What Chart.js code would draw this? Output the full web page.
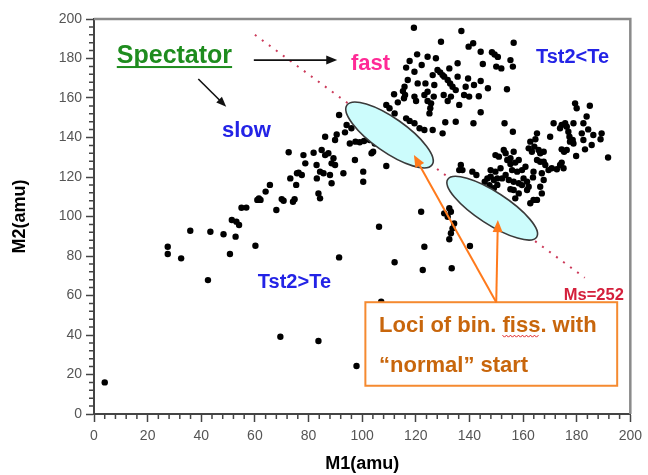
<!DOCTYPE html>
<html><head><meta charset="utf-8">
<script src="https://cdn.jsdelivr.net/npm/chart.js@4.4.1/dist/chart.umd.min.js"></script>
<style>html,body{margin:0;padding:0;background:#fff;overflow:hidden}</style>
</head><body>
<canvas id="c" width="648" height="475"></canvas>
<script>
// ---- data (M1, M2 in amu) ----
const lowPts = [[4,16],[27.5,84.7],[27.5,81],[32.5,78.8],[42.5,67.8],[50.7,81],[60.2,85.2],[69.5,39.1],[83.7,37],
 [91.4,79.3],[112.1,76.8],[122.6,72.9],[123.2,84.7],[133.4,73.8],[140.2,85.1],[107.1,56.9],[97.9,24.3],[106.3,94.8],[122,102.4]];
const bandPts = [[35.9,92.8],[43.4,92.3],[48.3,91],[52.8,89.8],[51.4,98.2],[53.1,97.4],[54.1,95.7],[55,104.4],[56.8,104.5],
 [60.9,108.4],[62.1,108.4],[61.5,109.2],[64,112.6],[65.6,116],[68,103.3],[70.7,108],[70,108.8],[74.2,107.5],[74.8,108.7],
 [73.2,119.3],[75.4,116],[76.3,122.2],[77.5,121],[75.7,121.9],[72.6,132.5],[78.1,131.1],[81.9,132.3],[78.8,126.9],[83,126.1],[83.1,119.3],
 [84.9,133.7],[86.2,131.1],[87.4,132],[89.3,129.5],[88.6,126.9],[89.9,126.1],[84.3,122.7],[85.6,121.9],[88,121],[93,121.9],[88.6,116.8],
 [83.7,111.7],[84.3,109.2],[97.3,128.6],[100.4,122.7],[100.4,117.6],[103.5,132],[104.1,132.8],[109,125.6],[109,135.4],
 [91.4,151.4],[94.2,146.3],[96,144.7],[86.2,140.4],[93.6,142.6],[89.9,138.7],[90.5,141.5],[95.4,137],[97.5,137.9],[99.1,137.6],[100.7,138.2],
 [102.8,138.7],[104.7,137],[106.6,139.6]];
const fastPts = [[119.3,195.6],[137,193.9],[129.4,188.5],[120.5,182.1],[124.4,180.9],[127.5,180.1],[117.7,178.7],[122.2,176.7],[116.4,175.4],[119.5,173.3],
 [128.1,174.2],[129.1,173],[130,171.6],[130.6,170.8],[132.5,175],[135.6,177.6],[126.3,171.6],[131.9,169.1],[132.8,167.4],[133.7,165.7],[135.6,170.8],
 [117,169.1],[120.7,167.4],[123.6,167.4],[126.9,166.6],[115.8,165.7],[111.9,161.9],[115.2,163.5],[116,161.5],[115.6,159.9],[119.5,160.7],
 [123.2,161.5],[124.4,163.2],[126.7,160.7],[130.4,161.5],[133.1,160.7],[134.9,164],[113.3,157.8],[120.1,158.5],[124.4,158.5],[125.7,157.3],
 [125.4,154.8],[125.1,152.2],[131.9,158.5],[136.2,156.5],[109,156.5],[110.2,154.8],[112.1,152.2],[116.4,149.7],[117.7,148.4],[119.5,147.2],
 [121.4,144.7],[123.2,143.8],[126.3,143.8],[131,147.7],[130,142.1],
 [156.5,188],[141.4,187.7],[139.7,186],[144.2,183.4],[148.4,183.2],[149.4,182],[150.6,180.8],[155.3,179.2],[145,177.2],[150,175.9],[151.9,175],
 [156.2,175.9],[139.5,169.9],[144.2,168.6],[146.9,164.9],[154,164.4],[141.7,166.6],[138.6,165.7],[139.9,160.7],[138,161.5],[143.5,160.9]];
const rightPts = [[179.4,157.3],[180,154.8],[184.9,156.1],[183.7,150.6],[144.2,152.8],[134.9,148],[141.5,147.2],[153.1,147.2],[156.2,142.9],
 [171.4,147.2],[174.4,146.3],[175.7,147.2],[176.3,145.5],[178.8,147.2],[173.8,144.7],[176.9,142.9],[182.5,147.2],[184.3,144.1],
 [165.2,142.1],[164.6,139.1],[170.1,140.4],[177.3,140.4],[178.5,138.7],[177.5,137.9],[178.8,137],[181.9,142.1],[182.5,138.7],
 [186.2,141.3],[189.3,142.1],[188.9,139.1],[185.6,136.2],[183.1,134],[191.7,129.9],[179.8,130.6],
 [174.4,134],[175.3,132.8],[176.3,133.7],[162.7,137.9],[164.2,135.4],[165.8,133.7],[166.4,132],[167.7,132.8],[162.1,134.5],[163.3,132.8],
 [165.2,128.6],[166.4,127.7],[167.7,127.7],[168.3,126.1],[173.8,126.1],[175.1,124.4],[172.6,123.9],[170.7,124.4],[169.5,123.5],[174.4,127.3],
 [152.8,133.7],[153.5,132],[151,130.3],[149.7,131.1],[156.5,132.8],[155.3,129.5],[154.1,128.6],[155.3,126.6],[157.1,127.3],[158.4,128.6],
 [160.9,125.2],[159.6,123.5],[157.8,122.7],[155.9,123.5],[151.6,124.4],[149.7,122.7],[147.9,123.5],
 [136.8,126.1],[136.2,123.5],[137.4,123.5],[141.1,122.7],[142.6,121],
 [163.9,122.7],[163.7,119.8],[167,121.9],[167.7,118.5],[166.4,115.1],[167,111.7],[165.2,108.4],
 [160.2,119.3],[161.5,117.6],[159.6,115.9],[158.4,116.8],[156.5,117.6],[154.7,118.5],
 [153.5,121],[152.2,119.3],[150.4,119.3],[149.1,118.5],[147.9,120.2],[146.7,119.3],
 [156.5,113.4],[155.3,113.8],[158.4,111.7],[161.5,113.4],[162.1,115.1],[162.7,106.7],[163.9,108.4],[157.1,109.2],
 [149.1,114.3],[150.4,116],[145.7,117.6],[147.5,115.9],
 [130.6,101.6],[131.9,99.9],[132.5,104.2],[133.1,102.4],[134.3,96.5],[133.7,94],[133.1,91.5],[132.5,88.5]];
// Ms = 252 line (M1 + M2 = 252)
const msM1 = [60, 183];
const msM2 = [192, 69];
// axis ticks
const axisMin = 0, axisMax = 200, majorStep = 20, minorStep = 4;

const allPts = [].concat(lowPts, bandPts, fastPts, rightPts).map(p => ({x: p[0], y: p[1]}));
const msLine = msM1.map((v, i) => ({x: v, y: msM2[i]}));

const FONT = "'Liberation Sans', Arial, sans-serif";

function arrow(ctx, x1, y1, x2, y2, color, w, hl, hw) {
  const a = Math.atan2(y2 - y1, x2 - x1), c = Math.cos(a), s = Math.sin(a);
  ctx.save();
  ctx.strokeStyle = color; ctx.lineWidth = w; ctx.lineCap = 'butt';
  ctx.beginPath(); ctx.moveTo(x1, y1); ctx.lineTo(x2 - hl * 0.7 * c, y2 - hl * 0.7 * s); ctx.stroke();
  ctx.fillStyle = color; ctx.beginPath(); ctx.moveTo(x2, y2);
  ctx.lineTo(x2 - hl * c + hw * s, y2 - hl * s - hw * c);
  ctx.lineTo(x2 - hl * c - hw * s, y2 - hl * s + hw * c);
  ctx.closePath(); ctx.fill();
  ctx.restore();
}

const decor = {
  id: 'decor',
  afterDraw(chart) {
    const {ctx, chartArea: ca, scales: {x, y}} = chart;
    const X = v => x.getPixelForValue(v), Y = v => y.getPixelForValue(v);
    ctx.save();
    // frame top/right
    ctx.strokeStyle = '#8a8a8a'; ctx.lineWidth = 2.5;
    ctx.beginPath(); ctx.moveTo(ca.left, ca.top); ctx.lineTo(ca.right, ca.top); ctx.lineTo(ca.right, ca.bottom); ctx.stroke();
    // minor ticks
    ctx.strokeStyle = '#444'; ctx.lineWidth = 1.5;
    ctx.beginPath();
    for (let v = axisMin; v <= axisMax; v += minorStep) {
      if (v % majorStep === 0) continue;
      const px = X(v); ctx.moveTo(px, ca.bottom); ctx.lineTo(px, ca.bottom + 5);
      const py = Y(v); ctx.moveTo(ca.left - 5, py); ctx.lineTo(ca.left, py);
    }
    ctx.stroke();

    // ellipses
    const ell = (cxv, cyv, a, b, deg) => {
      ctx.beginPath(); ctx.ellipse(X(cxv), Y(cyv), a, b, deg * Math.PI / 180, 0, Math.PI * 2);
      ctx.fillStyle = '#ccfcfc'; ctx.fill();
      ctx.strokeStyle = '#3a3a3a'; ctx.lineWidth = 1.6; ctx.stroke();
    };
    ell(110.2, 141.3, 52, 17, 35);
    ell(148.5, 104.2, 53, 16, 33);

    // orange box
    const bx1 = X(101.2), bx2 = X(195.1), by1 = Y(56.6), by2 = Y(14.3);
    ctx.fillStyle = '#ffffff'; ctx.fillRect(bx1, by1, bx2 - bx1, by2 - by1);
    ctx.strokeStyle = '#f58a30'; ctx.lineWidth = 2; ctx.strokeRect(bx1, by1, bx2 - bx1, by2 - by1);
    ctx.font = 'bold 22px ' + FONT; ctx.fillStyle = '#c8660c'; ctx.textBaseline = 'alphabetic'; ctx.textAlign = 'left';
    const tx = X(106.3), l1 = 'Loci of bin. fiss. with';
    ctx.fillText(l1, tx, Y(41.7));
    ctx.fillText('\u201cnormal\u201d start', tx, Y(21.4));
    // spell-check squiggle under "fiss"
    const sx = tx + ctx.measureText('Loci of bin. ').width, sw = ctx.measureText('fiss').width, sy = Y(41.7) + 4;
    ctx.strokeStyle = '#e02020'; ctx.lineWidth = 1; ctx.beginPath();
    for (let i = 0; i <= sw; i += 2) { const yy = sy + ((i / 2) % 2 ? 1.5 : -0.5); i === 0 ? ctx.moveTo(sx + i, yy) : ctx.lineTo(sx + i, yy); }
    ctx.stroke();

    // orange arrows
    arrow(ctx, X(150), by1, X(119.3), Y(131.1), '#ff7a1c', 2, 12, 5);
    arrow(ctx, X(150), by1, X(150.6), Y(98.2), '#ff7a1c', 2, 12, 5);

    // black arrows
    arrow(ctx, X(59.6), Y(179.2), X(90.7), Y(179.2), '#111', 1.8, 11, 4.5);
    arrow(ctx, X(38.9), Y(169.6), X(49.3), Y(155.6), '#111', 1.6, 10, 4);

    // texts
    ctx.textBaseline = 'alphabetic'; ctx.textAlign = 'left';
    ctx.font = 'bold 25px ' + FONT; ctx.fillStyle = '#1e8c1e';
    const spx = X(8.5), spy = Y(177.7);
    ctx.fillText('Spectator', spx, spy);
    const spw = ctx.measureText('Spectator').width;
    ctx.fillRect(spx, spy + 3, spw, 2);
    ctx.font = 'bold 22px ' + FONT; ctx.fillStyle = '#ff2a96';
    ctx.fillText('fast', X(95.8), Y(174.2));
    ctx.fillStyle = '#2323e6';
    ctx.fillText('slow', X(47.7), Y(140.4));
    ctx.font = 'bold 20px ' + FONT;
    ctx.fillText('Tst2<Te', X(164.8), Y(177.6));
    ctx.fillText('Tst2>Te', X(61.1), Y(63.8));
    ctx.font = 'bold 16.5px ' + FONT; ctx.fillStyle = '#d4203c';
    ctx.fillText('Ms=252', X(175.2), Y(57.7));
    ctx.restore();
  }
};

const tickFont = {family: FONT, size: 14};
new Chart(document.getElementById('c'), {
  type: 'scatter',
  data: {
    datasets: [
      {label: 'events', data: allPts, backgroundColor: '#000', borderWidth: 0, pointRadius: 3.2, order: 1},
      {type: 'line', label: 'Ms=252', data: msLine, borderColor: '#cc3a5a', borderWidth: 2, borderDash: [2, 6.7],
       pointRadius: 0, fill: false, order: 2}
    ]
  },
  options: {
    responsive: false, animation: false, devicePixelRatio: 1,
    layout: {padding: {left: 0, right: 14, top: 19, bottom: 0}},
    plugins: {legend: {display: false}, tooltip: {enabled: false}},
    scales: {
      x: {
        type: 'linear', min: axisMin, max: axisMax,
        afterFit: s => { s.height = 61; },
        ticks: {stepSize: majorStep, font: tickFont, color: '#555', padding: 6, maxRotation: 0},
        grid: {drawOnChartArea: false, drawTicks: true, tickLength: 8, tickColor: '#444', tickWidth: 1.5},
        border: {display: true, color: '#444', width: 2},
        title: {display: true, text: 'M1(amu)', color: '#000', font: {family: FONT, size: 18, weight: 'bold'}, padding: {top: 0, bottom: 0}}
      },
      y: {
        type: 'linear', min: axisMin, max: axisMax,
        afterFit: s => { s.width = 94; },
        ticks: {stepSize: majorStep, font: tickFont, color: '#555', padding: 4},
        grid: {drawOnChartArea: false, drawTicks: true, tickLength: 8, tickColor: '#444', tickWidth: 1.5},
        border: {display: true, color: '#444', width: 2},
        title: {display: true, text: 'M2(amu)', color: '#000', font: {family: FONT, size: 18, weight: 'bold'}, padding: {top: 9, bottom: 0}}
      }
    }
  },
  plugins: [decor]
});
</script>
</body></html>
